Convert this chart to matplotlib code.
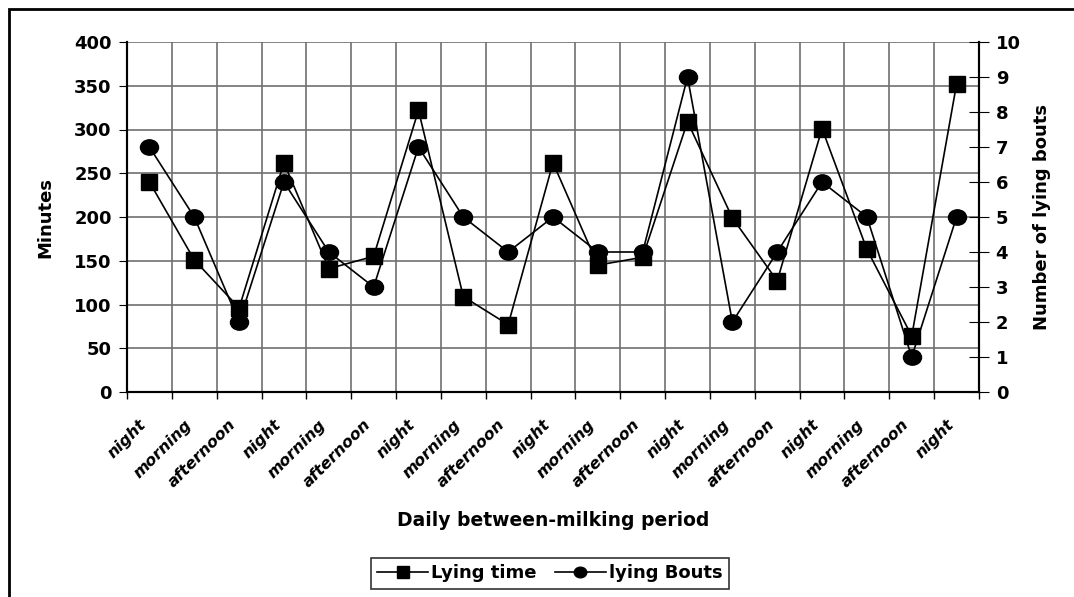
import numpy as np
import matplotlib.pyplot as plt
import matplotlib.transforms as mtransforms
from matplotlib.patches import Rectangle
from matplotlib.lines import Line2D
from matplotlib.path import Path

periods = ["night", "morning", "afternoon"] * 6 + ["night"]
lying_time = [240, 151, 96, 262, 141, 155, 322, 109, 77, 262, 145, 154,
              309, 199, 127, 301, 163, 64, 352]
lying_bouts = [7, 5, 2, 6, 4, 3, 7, 5, 4, 5, 4, 4, 9, 2, 4, 6, 5, 1, 5]

plt.rcParams['font.family'] = ['DejaVu Sans']
plt.rcParams['font.weight'] = 'bold'

W, H = 1074, 597
fig = plt.figure(figsize=(W / 100, H / 100), dpi=100)
ax1 = fig.add_axes([127 / W, 1 - 392 / H, 852 / W, 350 / H])
ax2 = ax1.twinx()

x = np.arange(len(periods))
grid_col = '#707070'

# slightly flattened circle, like the original
ellipse = Path.unit_circle().transformed(mtransforms.Affine2D().scale(1, 0.85))

ax1.plot(x, lying_time, color='black', lw=1.2, marker='s', markersize=12,
         markerfacecolor='black', zorder=4)
ax2.plot(x, lying_bouts, color='black', lw=1.2, marker=ellipse, markersize=13,
         markerfacecolor='black', zorder=4)

ax1.set_xlim(-0.5, len(periods) - 0.5)
ax1.set_ylim(0, 400)
ax2.set_ylim(0, 10)
ax1.set_yticks(np.arange(0, 401, 50))
ax2.set_yticks(np.arange(0, 11, 1))

ax1.set_xticks(x)
ax1.set_xticklabels(periods, rotation=45, ha='right', fontstyle='italic',
                    fontweight='bold', fontsize=11.5)
offset = mtransforms.ScaledTranslation(-14 / 100, 0, fig.dpi_scale_trans)
for lab in ax1.get_xticklabels():
    lab.set_transform(lab.get_transform() + offset)
ax1.set_xticks(np.arange(-0.5, len(periods), 1), minor=True)
ax1.tick_params(axis='x', which='major', length=0, pad=18)
ax1.tick_params(axis='x', which='minor', length=5, direction='out', width=1)
ax1.tick_params(axis='y', length=6, direction='out', labelsize=13, pad=5)
ax2.tick_params(axis='y', length=14, direction='inout', labelsize=13, pad=5)

ax1.grid(axis='y', which='major', color=grid_col, lw=1.2)
ax1.grid(axis='x', which='minor', color=grid_col, lw=1.2)
ax1.set_axisbelow(True)

for ax in (ax1, ax2):
    ax.spines['top'].set_visible(False)
    for s in ('left', 'right', 'bottom'):
        ax.spines[s].set_linewidth(1.5)

ax1.set_ylabel("Minutes", fontsize=13, fontweight='bold', va='center')
ax1.yaxis.set_label_coords((45 - 127) / 852, 0.5)
ax2.set_ylabel("Number of lying bouts", fontsize=13, fontweight='bold', va='center')
ax2.yaxis.set_label_coords((1042 - 127) / 852, 0.5)
ax1.set_xlabel("Daily between-milking period", fontsize=13.5, fontweight='bold', va='center')
ax1.xaxis.set_label_coords(0.5, (392 - 521) / 350)

handles = [Line2D([0], [0], color='black', lw=1.2, marker='s', markersize=9),
           Line2D([0], [0], color='black', lw=1.2, marker=ellipse, markersize=9)]
leg = fig.legend(handles, ["Lying time", "lying Bouts"], loc='center',
                 bbox_to_anchor=(550 / W, 1 - 573.5 / H), ncol=2,
                 fancybox=False, edgecolor='black', handlelength=2.8,
                 handletextpad=0.2, columnspacing=1.0, borderpad=0.35,
                 prop={'size': 13, 'weight': 'bold'})
leg.get_frame().set_linewidth(1.2)

fig.patches.append(Rectangle((9 / W, -0.01), 1.02, 1 - 9 / H + 0.01,
                             transform=fig.transFigure, fill=False,
                             edgecolor='black', lw=2))

fig.savefig("out.png", dpi=100)
